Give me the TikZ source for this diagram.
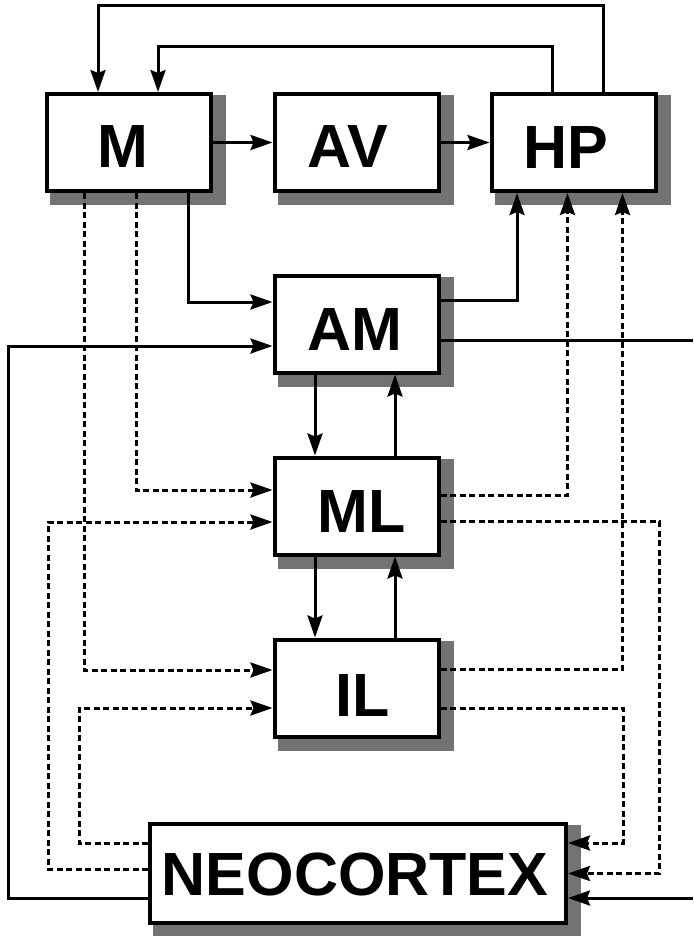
\documentclass[tikz,border=0pt]{standalone}
\usepackage{fontspec}
\setmainfont{Liberation Sans}
\usetikzlibrary{arrows.meta,backgrounds}
\begin{document}
\begin{tikzpicture}[x=1pt,y=-1pt,
  box/.style={draw,line width=4pt,fill=white,minimum width=164pt,minimum height=97pt,inner sep=0pt},
  lbl/.style={inner sep=0pt,font=\bfseries\fontsize{61}{61}\selectfont},
  conn/.style={line width=3pt,-{Stealth[length=22pt,width=15pt,inset=3pt]}},
  plainline/.style={line width=3pt},
  dconn/.style={conn,dash pattern=on 6pt off 3.5pt},
  shadowc/.style={fill=black!55}]
\useasboundingbox (0,0) rectangle (693,936);
% boxes
\node[box] (M)  at (129,142.5) {};
\node[box] (AV) at (356.5,142.5) {};
\node[box] (HP) at (573.5,142.5) {};
\node[box] (AM) at (356.5,324) {};
\node[box] (ML) at (356.5,506) {};
\node[box] (IL) at (356.5,688) {};
\node[box,minimum width=416pt,minimum height=99pt] (NEO) at (358,873.5) {};
% shadows
\begin{scope}[on background layer]
\foreach \n in {M,AV,HP,AM,ML,IL,NEO}
  \fill[shadowc] ([xshift=5pt,yshift=-3pt]\n.north west) rectangle ([xshift=13pt,yshift=-12pt]\n.south east);
\end{scope}
% labels
\node[lbl] (Mt)  at (123,146.5) {M};
\node[lbl] (AVt) at (348,147) {AV};
\node[lbl] (HPt) at (566,147.5) {HP};
\node[lbl] (AMt) at (355,330) {AM};
\node[lbl] (MLt) at (362,512) {ML};
\node[lbl] (ILt) at (363,695.5) {IL};
\node[lbl] (NEOt) at (355,874) {NEOCORTEX};
% free ends at the right edge
\coordinate (Rout) at (693,340);
\coordinate (Rin) at (693,898);
% top loops
\draw[conn] ([xshift=29.5pt]HP.north) -- ++(0,-86) -| ([xshift=-31pt]M.north);
\draw[conn] ([xshift=-21.5pt]HP.north) -- ++(0,-45) -| ([xshift=29pt]M.north);
% top row
\draw[conn] (M.east) -- (AV.west);
\draw[conn] (AV.east) -- (HP.west);
% to AM
\draw[conn] ([xshift=59pt]M.south) |- ([yshift=22pt]AM.west);
\draw[conn] ([yshift=-24.5pt]NEO.west) -| (8,346) -- ([yshift=-22pt]AM.west);
\draw[conn] ([yshift=24pt]AM.east) -| ([xshift=-56.5pt]HP.south);
\draw[plainline] ([yshift=-16pt]AM.east) -- (Rout);
\draw[conn] (Rin) -- ([yshift=-24.5pt]NEO.east);
% vertical chain
\draw[conn] ([xshift=-41.5pt]AM.south) -- ([xshift=-41.5pt]ML.north);
\draw[conn] ([xshift=38.5pt]ML.north) -- ([xshift=38.5pt]AM.south);
\draw[conn] ([xshift=-41.5pt]ML.south) -- ([xshift=-41.5pt]IL.north);
\draw[conn] ([xshift=38.5pt]IL.north) -- ([xshift=38.5pt]ML.south);
% dashed, left side
\draw[dconn] ([xshift=-45pt]M.south) |- ([yshift=18pt]IL.west);
\draw[dconn] ([xshift=7pt]M.south) |- ([yshift=16pt]ML.west);
\draw[dconn] ([yshift=30.5pt]NEO.west) -| (79,708) -- ([yshift=-20pt]IL.west);
\draw[dconn] ([yshift=4.5pt]NEO.west) -| (48,522) -- ([yshift=-16pt]ML.west);
% dashed, right side
\draw[dconn] ([yshift=11pt]ML.east) -| ([xshift=-6pt]HP.south);
\draw[dconn] ([yshift=-15pt]ML.east) -| (659,873.5) -- (NEO.east);
\draw[dconn] ([yshift=19pt]IL.east) -| ([xshift=49pt]HP.south);
\draw[dconn] ([yshift=-20pt]IL.east) -| (623,843) -- ([yshift=30.5pt]NEO.east);
\end{tikzpicture}
\end{document}
